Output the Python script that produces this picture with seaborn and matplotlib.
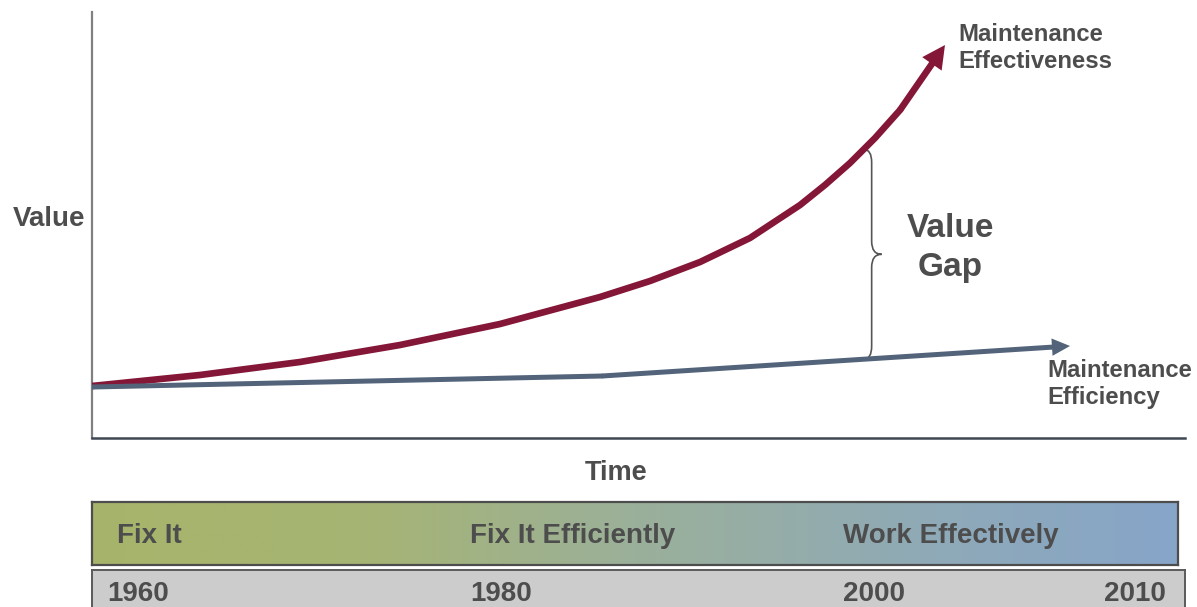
import numpy as np
import pandas as pd
import matplotlib
matplotlib.use("Agg")
import matplotlib.pyplot as plt
import seaborn as sns
from matplotlib.patches import FancyArrowPatch, ArrowStyle, PathPatch
from matplotlib.path import Path
from matplotlib.colors import LinearSegmentedColormap

# ---- data (arbitrary time / value units, 0-100) ----
effectiveness_t = [0.0, 9.88, 19.03, 28.18, 37.33, 46.48, 51.05, 55.63, 60.20,
                   64.78, 67.06, 69.35, 71.64, 73.93, 78.04]
effectiveness_v = [12.21, 14.79, 17.84, 21.83, 26.76, 33.10, 36.85, 41.31, 46.95,
                   54.69, 59.39, 64.55, 70.42, 77.00, 92.25]
efficiency_t = [0.0, 46.66, 89.48]
efficiency_v = [11.97, 14.55, 21.60]
gap_t = 70.6

phases = ["Fix It", "Fix It Efficiently", "Work Effectively"]
years = ["1960", "1980", "2000", "2010"]

# ---- style ----
RED = "#841737"
BLUE = "#52637A"
TXT = "#4D4D4D"

sns.set_style("white")
plt.rcParams["font.family"] = ["Liberation Sans", "DejaVu Sans"]
plt.rcParams["font.weight"] = "bold"

W, H = 1197, 607
fig = plt.figure(figsize=(W / 100, H / 100), dpi=100)


def fx(px):
    return px / W


def fy(py):
    return 1 - py / H


# ---- main chart ----
ax = fig.add_axes([fx(92), fy(438), (1185 - 92) / W, (438 - 12) / H])
ax.set_xlim(0, 100)
ax.set_ylim(0, 100)
ax.set_xticks([])
ax.set_yticks([])
for s in ("top", "right"):
    ax.spines[s].set_visible(False)
ax.spines["left"].set_color("#808080")
ax.spines["left"].set_linewidth(1.6)
ax.spines["bottom"].set_color("#3F4852")
ax.spines["bottom"].set_linewidth(1.8)

eff = pd.DataFrame({"t": effectiveness_t, "v": effectiveness_v})
effi = pd.DataFrame({"t": efficiency_t, "v": efficiency_v})

sns.lineplot(data=eff.iloc[:-1], x="t", y="v", ax=ax, color=RED, lw=4.8,
             sort=False, estimator=None, zorder=3)
ax.add_patch(FancyArrowPatch(
    (eff.t.iloc[-2], eff.v.iloc[-2]), (eff.t.iloc[-1], eff.v.iloc[-1]),
    arrowstyle=ArrowStyle.Simple(head_length=16.5, head_width=17, tail_width=4.8),
    mutation_scale=1, color=RED, lw=0, shrinkA=0, shrinkB=0, zorder=3))

sns.lineplot(data=effi.iloc[:-1], x="t", y="v", ax=ax, color=BLUE, lw=3.6,
             sort=False, estimator=None, zorder=4)
ax.add_patch(FancyArrowPatch(
    (effi.t.iloc[-2], effi.v.iloc[-2]), (effi.t.iloc[-1], effi.v.iloc[-1]),
    arrowstyle=ArrowStyle.Simple(head_length=13, head_width=12.5, tail_width=3.6),
    mutation_scale=1, color=BLUE, lw=0, shrinkA=0, shrinkB=0, zorder=4))
ax.set_xlabel("")
ax.set_ylabel("")

# ---- curly brace marking the gap ----
top = np.interp(gap_t, effectiveness_t, effectiveness_v)
bot = np.interp(gap_t, efficiency_t, efficiency_v)
px_x = 100 / (1185 - 92)
px_y = 100 / (438 - 12)
xb = gap_t
xs = xb + 8 * px_x
xp = xb + 18 * px_x
r = 13 * px_y
ym = (top + bot) / 2
verts = [(xb, top), (xs, top), (xs, top - r),
         (xs, ym + r),
         (xs, ym), (xp, ym),
         (xs, ym), (xs, ym - r),
         (xs, bot + r),
         (xs, bot), (xb, bot)]
codes = [Path.MOVETO, Path.CURVE3, Path.CURVE3,
         Path.LINETO,
         Path.CURVE3, Path.CURVE3,
         Path.CURVE3, Path.CURVE3,
         Path.LINETO,
         Path.CURVE3, Path.CURVE3]
ax.add_patch(PathPatch(Path(verts, codes), fill=False, edgecolor="#555555",
                       lw=1.2, zorder=2))

# ---- labels ----
fig.text(fx(49), fy(219), "Value", ha="center", va="center", fontsize=20,
         color=TXT, fontweight="bold")
fig.text(fx(616), fy(473), "Time", ha="center", va="center", fontsize=19.5,
         color=TXT, fontweight="bold")
fig.text(fx(950), fy(248), "Value\nGap", ha="center", va="center", fontsize=24,
         color=TXT, fontweight="bold", linespacing=1.3)
fig.text(fx(958), fy(48), "Maintenance\nEffectiveness", ha="left", va="center",
         fontsize=17.2, color=TXT, fontweight="bold", linespacing=1.22)
fig.text(fx(1047), fy(384), "Maintenance\nEfficiency", ha="left", va="center",
         fontsize=17.2, color=TXT, fontweight="bold", linespacing=1.22)

# ---- phase band ----
bax = fig.add_axes([fx(92), fy(565), (1178 - 92) / W, (565 - 502) / H])
cmap = LinearSegmentedColormap.from_list(
    "phase", [(0.0, "#A7B46B"), (0.25, "#A6B474"), (0.5, "#9BB09A"),
              (0.75, "#90AAB5"), (1.0, "#87A5C9")])
bax.imshow(np.linspace(0, 1, 512)[None, :], cmap=cmap, aspect="auto",
           extent=[0, 1, 0, 1])
bax.set_xlim(0, 1)
bax.set_ylim(0, 1)
bax.set_xticks([])
bax.set_yticks([])
for s in bax.spines.values():
    s.set_color("#4D4D4D")
    s.set_linewidth(1.6)
phase_left = [117, 470, 843]
for name, px in zip(phases, phase_left):
    fig.text(fx(px), fy(536), name, ha="left", va="center",
             fontsize=20, color=TXT, fontweight="bold")

# ---- year band ----
gax = fig.add_axes([fx(92), fy(625), (1185 - 92) / W, (625 - 570) / H])
gax.set_facecolor("#CCCCCC")
gax.set_xticks([])
gax.set_yticks([])
for s in gax.spines.values():
    s.set_color("#5A5A5A")
    s.set_linewidth(1.4)
year_pos = [(107, "left"), (470, "left"), (843, "left"), (1166, "right")]
for yr, (px, ha) in zip(years, year_pos):
    fig.text(fx(px), fy(594), yr, ha=ha, va="center", fontsize=20,
             color=TXT, fontweight="bold")

fig.savefig("out.png", dpi=100)
